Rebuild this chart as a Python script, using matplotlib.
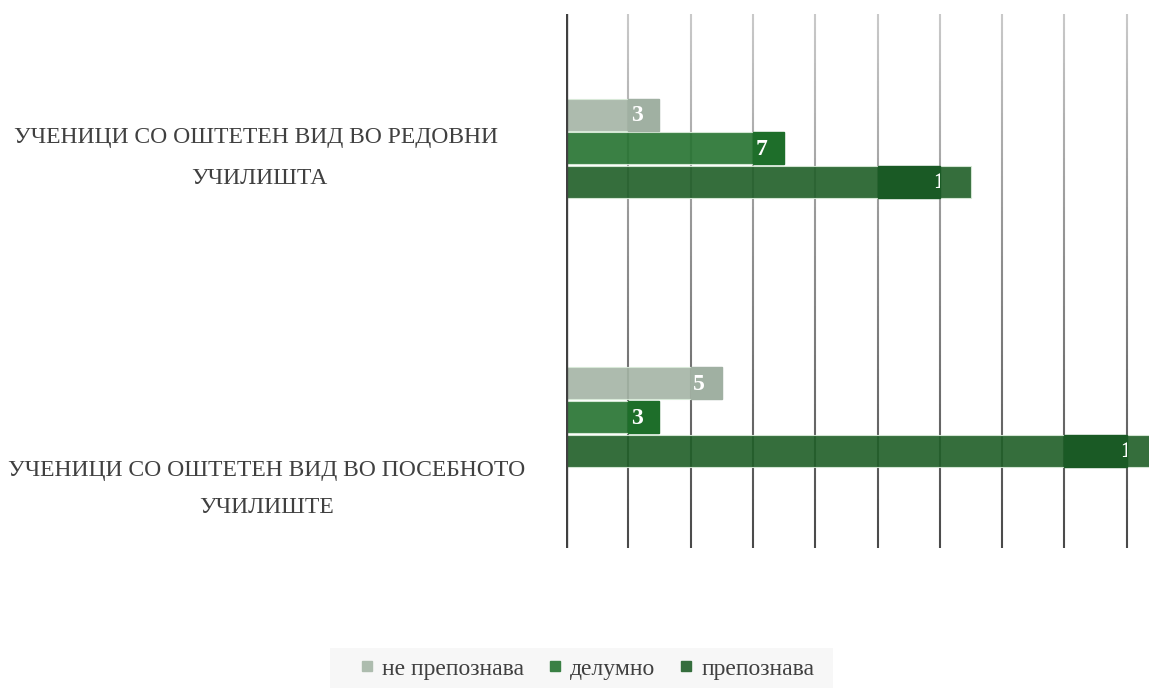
import numpy as np
import matplotlib.pyplot as plt
from matplotlib.collections import LineCollection
from matplotlib.lines import Line2D
from matplotlib.patches import Rectangle
from matplotlib.colors import to_rgb
from matplotlib.transforms import Bbox, TransformedBbox

plt.rcParams['font.family'] = ['Liberation Serif', 'DejaVu Serif']

categories = ['УЧЕНИЦИ СО ОШТЕТЕН ВИД ВО РЕДОВНИ \nУЧИЛИШТА',
              'УЧЕНИЦИ СО ОШТЕТЕН ВИД ВО ПОСЕБНОТО\nУЧИЛИШТЕ']
series = ['не препознава', 'делумно', 'препознава']
values = {
    'не препознава': [3, 5],
    'делумно': [7, 3],
    'препознава': [13, 19],
}

bar_colors = ['#a4b4a5', '#24722f', '#1f5e27']
box_colors = ['#a0b0a2', '#1e6e2a', '#1a5a25']
legend_colors = ['#adbcae', '#3a8044', '#356e3d']
text_color = '#404040'

W, H = 1149, 688
fig = plt.figure(figsize=(W / 100, H / 100), dpi=100)
ax = fig.add_axes([566 / W, 1 - 548 / H, 623 / W, 534 / H])
ax.set_xlim(0, 20)
ax.set_ylim(15.9, 0)
ax.axis('off')

# vertical gridlines fading from light at the top to dark at the bottom
ys = np.linspace(0, 15.9, 120)
top, bottom = np.array(to_rgb('#cacaca')), np.array(to_rgb('#484848'))
segs, cols = [], []
for gx in range(2, 20, 2):
    for k in range(len(ys) - 1):
        segs.append([(gx, ys[k]), (gx, ys[k + 1])])
        t = (ys[k] + ys[k + 1]) / 2 / 15.9
        cols.append(top * (1 - t) + bottom * t)
ax.add_collection(LineCollection(segs, colors=cols, linewidths=1.5, zorder=1))
ax.axvline(0, color='#404040', lw=2.4, zorder=5)

centers = [4 + 8 * i for i in range(len(categories))]
for j, name in enumerate(series):
    ypos = [c - 1 + j for c in centers]
    ax.barh(ypos, values[name], height=0.95, color=bar_colors[j], alpha=0.9,
            edgecolor=(0.85, 0.92, 0.85, 0.8), linewidth=0.8, zorder=2)
    for y, v in zip(ypos, values[name]):
        if v < 10:
            b0 = 2 * (v // 2)
            b1 = v
        else:
            b1 = 2 * ((v - 1) // 2)
            b0 = b1 - 2
        ax.add_patch(Rectangle((b0, y - 0.475), b1 - b0, 0.95,
                               color=box_colors[j], zorder=3))
        tx = b0 + 0.08 if v < 10 else b1 - 0.2
        t = ax.text(tx, y + 0.03, str(v), color='white', fontsize=17,
                    fontweight='bold', ha='left', va='center', zorder=4,
                    clip_on=True)
        t.set_clip_box(TransformedBbox(Bbox([[b0, y - 0.475], [b1, y + 0.475]]),
                                       ax.transData))

# category labels left of the axis
fig.text(259 / W, 1 - 158 / H, categories[0], ha='center', va='center',
         fontsize=17, color=text_color, linespacing=2.2, multialignment='center')
fig.text(267 / W, 1 - 489 / H, categories[1], ha='center', va='center',
         fontsize=17, color=text_color, linespacing=2.05, multialignment='center')

# legend with a light panel behind it
fig.patches.append(Rectangle((330 / W, 0), 503 / W, 40 / H, transform=fig.transFigure,
                             facecolor='#f7f7f7', edgecolor='none', zorder=0))
handles = [Line2D([], [], marker='s', ls='none', markersize=6.8,
                  markerfacecolor=c, markeredgecolor=c) for c in legend_colors]
leg = fig.legend(handles, series, loc='center', bbox_to_anchor=(587 / W, 1 - 669 / H),
                 ncol=3, frameon=False, fontsize=17,
                 handlelength=0.6, handletextpad=0.35, columnspacing=1.0,
                 borderpad=0.2, borderaxespad=0)
for txt in leg.get_texts():
    txt.set_color(text_color)

fig.savefig('out.png', dpi=100)
